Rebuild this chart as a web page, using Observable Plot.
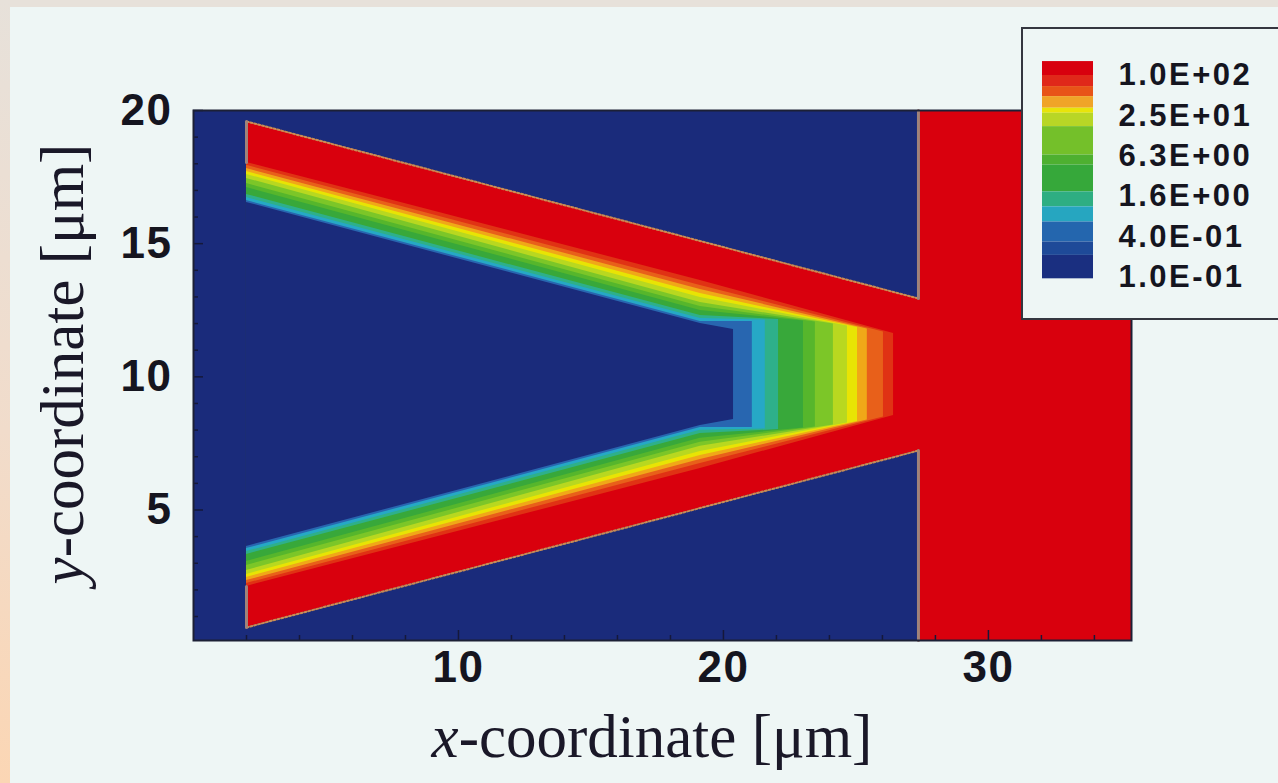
<!DOCTYPE html>
<html><head><meta charset="utf-8">
<script src="https://cdn.jsdelivr.net/npm/d3@7"></script>
<script src="https://cdn.jsdelivr.net/npm/@observablehq/plot@0.6"></script>
<style>
html,body{margin:0;padding:0;overflow:hidden;background:#eef6f5;}
#page{position:relative;width:1278px;height:783px;background:#eef6f5;overflow:hidden;}
#bandTop{position:absolute;left:0;top:0;width:1278px;height:7px;background:#e7e1da;}
#bandLeft{position:absolute;left:0;top:0;width:10px;height:783px;background:linear-gradient(#e7e1da,#f1dccb 55%,#fbd6b4);}
#chart{position:absolute;left:0;top:0;}
#legend{position:absolute;left:1021px;top:27px;width:290px;height:289px;border:2px solid #34363f;background:#eef6f5;}
</style></head>
<body><div id="page"><div id="bandTop"></div><div id="bandLeft"></div><div id="chart"></div><div id="legend"></div></div>
<script>
// ---- axes ----
const xTicks = [10, 20, 30];
const yTicks = [5, 10, 15, 20];
const xMinor = [2, 4, 6, 8, 12, 14, 16, 18, 22, 24, 26, 28, 32, 34];
const yMinor = [1, 2, 3, 4, 6, 7, 8, 9, 11, 12, 13, 14, 16, 17, 18, 19];

// ---- contour band colours, lowest (0.1) to highest (100) ----
const bandColors = ["#1a2b7b", "#2866b0", "#26a8c6", "#2eb08a", "#38a83a", "#56b62c", "#7cc628",
                    "#b8d820", "#e8e404", "#f0a818", "#e8601a", "#e03214", "#d9000d"];

// ---- channel geometry (µm) ----
const channelX  = [2, 27.36, 27.36, 35.4];
const channelLo = [0.59, 7.23, 0.1, 0.1];
const channelHi = [19.59, 12.94, 20, 20];

// ---- contour lines (12 boundaries, low to high) ----
const inletX = 2;
const inletUpper = [16.55, 16.62, 16.73, 16.85, 17.11, 17.26, 17.45, 17.60, 17.71, 17.82, 17.94, 18.05];
const inletLower = [3.63, 3.55, 3.44, 3.33, 3.07, 2.92, 2.73, 2.58, 2.47, 2.35, 2.24, 2.13];
const midX = 19.13;
const midUpper = [12.00, 12.08, 12.19, 12.30, 12.49, 12.64, 12.79, 12.98, 13.13, 13.28, 13.43, 13.62];
const midLower = [8.17, 8.10, 7.99, 7.87, 7.69, 7.54, 7.39, 7.20, 7.05, 6.90, 6.75, 6.56];
const turnX = [20.38, 21.09, 21.58, 22.08, 23.02, 23.47, 24.15, 24.68, 25.06, 25.43, 26.04, 26.42];
const turnUpper = [11.78, 12.08, 12.13, 12.15, 12.10, 12.06, 11.98, 11.91, 11.85, 11.80, 11.68, 11.63];
const turnLower = [8.40, 8.10, 8.04, 8.02, 8.08, 8.12, 8.19, 8.27, 8.32, 8.38, 8.49, 8.55];

// ---- wall outlines ----
const wallSegs = [
  {id: "upperOuter", x: [2, 27.36], y: [19.59, 12.94]},
  {id: "lowerOuter", x: [2, 27.36], y: [0.59, 7.23]}
];
const solidSegs = [
  {id: "jTop", x: [27.36, 27.36], y: [12.94, 20]},
  {id: "jBot", x: [27.36, 27.36], y: [0.1, 7.23]},
  {id: "inTop", x: [2, 2], y: [18.05, 19.59]},
  {id: "inBot", x: [2, 2], y: [0.59, 2.13]}
];

// ---- legend ----
const legendLo = [100, 68.5, 48.6, 32.7, 27.5, 17.4, 6.58, 4.67, 1.87, 1.12, 0.667, 0.336, 0.213, 0.0956];
const legendHi = [161, 100, 68.5, 48.6, 32.7, 27.5, 17.4, 6.58, 4.67, 1.87, 1.12, 0.667, 0.336, 0.213];
const legendColors = ["#d8000e", "#e0281a", "#e85418", "#f0a428", "#e8e40a", "#b8d626", "#74c02a",
                      "#4eb030", "#36a83a", "#2eae82", "#26a6c0", "#2466ae", "#1e4a98", "#1a2f80"];
const legendValues = [100, 25, 6.3, 1.6, 0.4, 0.1];
const legendLabels = ["1.0E+02", "2.5E+01", "6.3E+00", "1.6E+00", "4.0E-01", "1.0E-01"];

// build tables
const channel = channelX.map((x, i) => ({x, lo: channelLo[i], hi: channelHi[i]}));
const wedges = [];
for (let k = turnX.length - 1; k >= 0; k--) {
  const fill = bandColors[k];
  wedges.push({k, x: inletX, lo: inletLower[k], hi: inletUpper[k], fill});
  wedges.push({k, x: midX, lo: midLower[k], hi: midUpper[k], fill});
  wedges.push({k, x: turnX[k], lo: turnLower[k], hi: turnUpper[k], fill});
}
const toPts = segs => segs.flatMap(s => s.x.map((x, i) => ({id: s.id, x, y: s.y[i]})));

const font = "Liberation Sans, Arial, Helvetica, sans-serif";
const chart = Plot.plot({
  width: 1278, height: 783,
  marginLeft: 193, marginRight: 147, marginTop: 110, marginBottom: 143,
  x: {domain: [0, 35.4]},
  y: {domain: [0.1, 20]},
  style: {background: "transparent", color: "#15151f", letterSpacing: "1.5px", overflow: "visible"},
  marks: [
    Plot.frame({fill: bandColors[0]}),
    Plot.areaY(channel, {x: "x", y1: "lo", y2: "hi", fill: bandColors[12], curve: "linear"}),
    Plot.areaY(wedges, {x: "x", y1: "lo", y2: "hi", z: "k", fill: "fill", curve: "linear"}),
    Plot.line(toPts(wallSegs), {x: "x", y: "y", z: "id", stroke: "#c98d55", strokeWidth: 2, strokeDasharray: "2,2"}),
    Plot.line(toPts(solidSegs), {x: "x", y: "y", z: "id", stroke: "#a0837a", strokeWidth: 3}),
    Plot.tickX(xMinor, {x: d => d, insetTop: 525, stroke: "#15183a", strokeWidth: 1.5}),
    Plot.tickX(xTicks, {x: d => d, insetTop: 520, stroke: "#15183a", strokeWidth: 1.5}),
    Plot.tickY(yMinor, {y: d => d, insetRight: 933, stroke: "#15183a", strokeWidth: 1.5}),
    Plot.tickY(yTicks, {y: d => d, insetRight: 928, stroke: "#15183a", strokeWidth: 1.5}),
    Plot.frame({stroke: "#1c2036", strokeWidth: 2}),
    Plot.axisX(xTicks, {tickSize: 0, tickPadding: 10, fontSize: 44, fontWeight: "bold", fontFamily: font, label: null}),
    Plot.axisY(yTicks, {tickSize: 0, tickPadding: 21, fontSize: 44, fontWeight: "bold", fontFamily: font, label: null})
  ]
});
document.getElementById("chart").appendChild(chart);

const svg = d3.select(chart);
const serif = "Liberation Serif, Times New Roman, serif";
const xt = svg.append("text").attr("x", 652).attr("y", 757).attr("text-anchor", "middle")
  .style("font-family", serif).style("font-size", "61px").style("letter-spacing", "0px").attr("fill", "#1a1828");
xt.append("tspan").style("font-style", "italic").text("x");
xt.append("tspan").text("-coordinate [μm]");
const yt = svg.append("text").attr("transform", "translate(83,364) rotate(-90)").attr("text-anchor", "middle")
  .style("font-family", serif).style("font-size", "61px").style("letter-spacing", "0px").attr("fill", "#1a1828");
yt.append("tspan").style("font-style", "italic").text("y");
yt.append("tspan").text("-coordinate [μm]");

// legend
const legendRows = legendColors.map((c, i) => ({c, lo: legendLo[i], hi: legendHi[i]}));
const legendText = legendValues.map((v, i) => ({v, t: legendLabels[i]}));
const legend = Plot.plot({
  width: 256, height: 288, margin: 0,
  x: {domain: [0, 1], range: [19, 70], axis: null},
  y: {type: "log", domain: [0.1, 100], range: [248, 46], axis: null},
  style: {background: "transparent", color: "#15151f", letterSpacing: "2.5px"},
  marks: [
    Plot.rect(legendRows, {x1: 0, x2: 1, y1: "lo", y2: "hi", fill: "c"}),
    Plot.text(legendText, {x: 1, dx: 25, y: "v", text: "t", textAnchor: "start", fontSize: 31, fontWeight: "bold", fontFamily: font})
  ]
});
document.getElementById("legend").appendChild(legend);
</script>
</body></html>
